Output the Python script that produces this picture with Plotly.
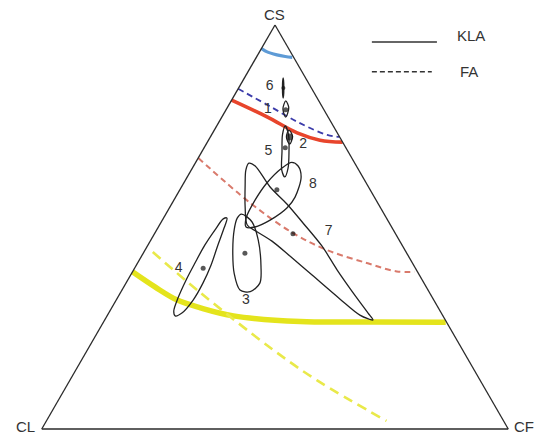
import plotly.graph_objects as go

# Boundary curves, points given as (CS, CL, CF) in %
kla_blue = [(94.2, 5.8, 0.0), (93.4, 5.1, 1.5), (92.6, 3.3, 4.1), (92.2, 1.7, 6.1), (92.0, 0.3, 7.7)]
kla_red = [(81.4, 18.6, 0.0), (77.2, 13.0, 9.8), (73.3, 8.6, 18.1), (71.5, 4.6, 23.9), (71.0, 0.0, 29.0)]
kla_yellow = [(38.9, 61.1, 0.0), (35.1, 58.1, 6.8), (31.9, 55.0, 13.1), (30.0, 51.0, 19.0),
              (28.0, 44.9, 27.1), (26.6, 31.3, 42.1), (26.5, 15.8, 57.7), (26.4, 0.2, 73.4)]
fa_blue = [(84.2, 15.8, 0.0), (80.2, 11.5, 8.3), (75.7, 6.8, 17.5), (72.8, 2.4, 24.8), (72.3, 0.0, 27.7)]
fa_red = [(67.1, 32.9, 0.0), (55.9, 27.3, 16.8), (48.5, 21.9, 29.6), (44.3, 16.7, 39.0),
          (41.1, 9.8, 49.1), (39.0, 4.4, 56.6), (38.9, 0.6, 60.5)]
fa_yellow = [(43.8, 54.3, 1.9), (33.7, 49.1, 17.2), (19.6, 40.6, 39.8), (12.1, 35.0, 52.9), (2.0, 25.1, 72.9)]

# Confidence regions of the eight groups, (CS, CL, CF) in %
region_1 = [(81.2, 7.1, 11.7), (79.5, 7.3, 13.2), (77.2, 9.1, 13.7), (79.2, 8.7, 12.1)]
region_2 = [(74.0, 10.0, 16.0), (72.5, 10.0, 17.5), (70.5, 11.6, 17.9), (72.3, 11.4, 16.3)]
region_3 = [(53.2, 30.6, 16.2), (51.3, 29.3, 19.4), (46.8, 30.2, 23.0), (40.2, 32.9, 26.9),
            (36.1, 35.2, 28.7), (34.0, 38.3, 27.7), (34.4, 40.3, 25.3), (38.5, 39.5, 22.0),
            (44.3, 36.9, 18.8), (49.3, 34.1, 16.6), (52.2, 32.0, 15.8)]
region_4 = [(52.2, 34.2, 13.6), (49.8, 36.0, 14.2), (45.5, 39.5, 15.0), (40.6, 43.4, 16.0),
            (36.1, 47.4, 16.5), (31.9, 51.6, 16.5), (28.7, 55.6, 15.7), (28.0, 57.4, 14.6),
            (29.2, 57.1, 13.7), (32.4, 54.6, 13.0), (36.9, 50.6, 12.5), (41.1, 46.6, 12.3),
            (45.5, 42.3, 12.2), (49.3, 38.2, 12.5), (52.0, 35.1, 12.9)]
region_5 = [(75.0, 10.3, 14.7), (72.8, 10.7, 16.5), (68.6, 12.7, 18.7), (64.6, 14.9, 20.5),
            (62.4, 16.7, 20.9), (64.1, 16.5, 19.4), (68.6, 14.2, 17.2), (72.8, 12.0, 15.2)]
region_6 = [(86.9, 4.8, 8.3), (84.4, 5.9, 9.7), (81.9, 7.3, 10.8), (84.4, 6.2, 9.4)]
region_7 = [(27.0, 15.5, 57.5), (28.2, 17.7, 54.1), (32.2, 20.0, 47.8), (38.1, 23.0, 38.9),
            (42.8, 25.4, 31.8), (46.5, 27.4, 26.1), (49.0, 29.6, 21.4), (50.5, 30.7, 18.8),
            (55.0, 28.9, 16.1), (60.4, 26.2, 13.4), (64.1, 24.2, 11.7), (65.8, 22.7, 11.5),
            (65.1, 21.7, 13.2), (59.9, 21.1, 19.0), (55.7, 19.6, 24.7), (51.0, 18.5, 30.5),
            (45.3, 17.3, 37.4), (39.4, 17.0, 43.6), (33.7, 16.4, 49.9), (28.7, 15.7, 55.6)]
region_8 = [(66.0, 13.4, 20.6), (65.1, 12.5, 22.4), (62.4, 13.2, 24.4), (57.4, 17.0, 25.6),
            (54.7, 20.1, 25.2), (51.7, 25.2, 23.1), (50.0, 29.3, 20.7), (50.0, 31.2, 18.8),
            (52.2, 30.1, 17.7), (56.7, 25.9, 17.4), (60.9, 21.3, 17.8), (64.6, 16.2, 19.2)]

group_ids = ["1", "2", "3", "4", "5", "6", "7", "8"]
group_means = [(79.0, 8.2, 12.8), (72.3, 10.7, 17.0), (43.5, 34.7, 21.8), (39.8, 45.5, 14.7),
               (69.6, 13.0, 17.4), (84.4, 6.0, 9.6), (48.3, 22.0, 29.7), (59.2, 20.0, 20.8)]
group_label_pos = [(79.0, 12.0, 9.0), (70.3, 8.8, 20.9), (31.7, 40.4, 27.9), (39.7, 50.8, 9.5),
                   (68.8, 17.0, 14.2), (84.9, 8.7, 6.4), (48.8, 14.1, 37.1), (60.6, 11.6, 27.8)]

FONT = "Liberation Sans, Arial, sans-serif"


def abc(points, close=False):
    pts = list(points) + ([points[0]] if close else [])
    return dict(a=[p[0] for p in pts], b=[p[1] for p in pts], c=[p[2] for p in pts])


fig = go.Figure()

curves = [
    (kla_blue, "#5e9bd6", 3.2, "solid"),
    (kla_red, "#e8452c", 3.6, "solid"),
    (kla_yellow, "#e4e41c", 5.5, "solid"),
    (fa_blue, "#3c3caa", 1.8, "6px,4px"),
    (fa_red, "#d97a6c", 2.0, "6px,4px"),
    (fa_yellow, "#e9e94a", 2.6, "10px,6px"),
]
for pts, color, width, dash in curves:
    fig.add_trace(go.Scatterternary(
        **abc(pts), mode="lines",
        line=dict(color=color, width=width, dash=dash, shape="spline", smoothing=1.0),
        hoverinfo="skip"))

regions = [region_1, region_2, region_3, region_4, region_5, region_6, region_7, region_8]
for reg in regions:
    fig.add_trace(go.Scatterternary(
        **abc(reg, close=True), mode="lines",
        line=dict(color="#222222", width=1.3, shape="spline", smoothing=0.9),
        hoverinfo="skip"))

fig.add_trace(go.Scatterternary(
    **abc(group_means), mode="markers",
    marker=dict(color="#111111", size=[5, 7, 5, 5, 5, 4, 5, 5], line=dict(width=0)),
    hoverinfo="skip"))

fig.add_trace(go.Scatterternary(
    **abc(group_label_pos), mode="text", text=group_ids,
    textfont=dict(family=FONT, size=14, color="#333333"),
    hoverinfo="skip", cliponaxis=False))

axis = dict(showticklabels=False, ticks="", showgrid=False, showline=True,
            linecolor="#2a2a2a", linewidth=1.3, title=dict(text=""))


def note(text, x, y, xanchor="center"):
    return dict(text=text, x=x, y=y, xref="paper", yref="paper", showarrow=False,
                xanchor=xanchor, yanchor="middle",
                font=dict(family=FONT, size=15, color="#333333"))


fig.update_layout(
    width=536, height=436,
    margin=dict(l=41, r=27, t=25, b=7),
    paper_bgcolor="white", showlegend=False,
    ternary=dict(sum=100, bgcolor="white", aaxis=axis, baxis=axis, caxis=axis),
    annotations=[
        note("CS", 0.498, 1.027),
        note("CL", -0.034, 0.005),
        note("CF", 1.006, 0.006, "left"),
        note("KLA", 0.885, 0.973, "left"),
        note("FA", 0.891, 0.884, "left"),
    ],
    shapes=[
        dict(type="line", xref="paper", yref="paper", x0=0.707, x1=0.846, y0=0.958, y1=0.958,
             line=dict(color="#333333", width=1.5)),
        dict(type="line", xref="paper", yref="paper", x0=0.707, x1=0.835, y0=0.884, y1=0.884,
             line=dict(color="#333333", width=1.5, dash="5px,3px")),
    ],
)

fig.write_html("out.html")
